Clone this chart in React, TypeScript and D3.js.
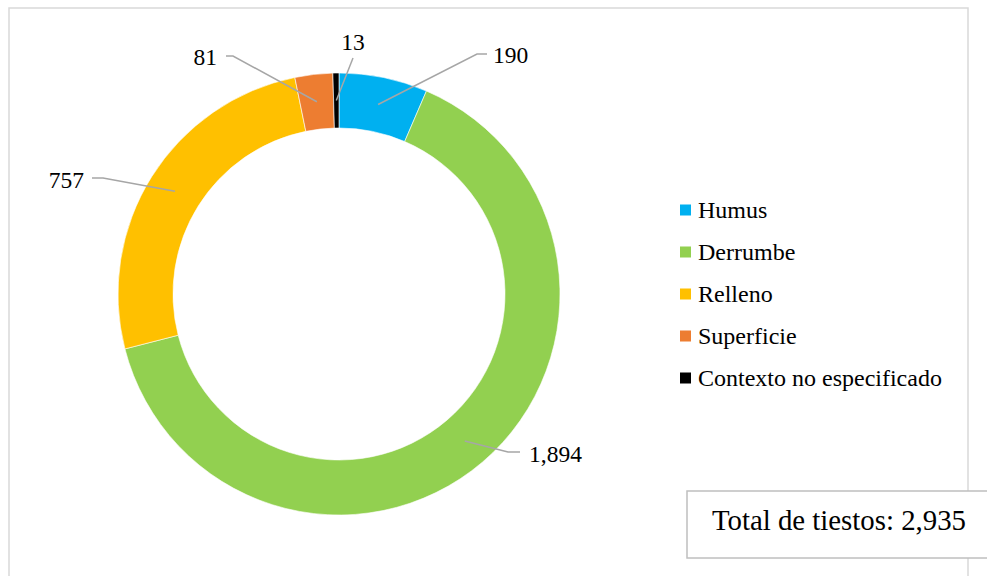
import React from "react";
import * as d3 from "d3";

const categories = ["Humus", "Derrumbe", "Relleno", "Superficie", "Contexto no especificado"];
const values = [190, 1894, 757, 81, 13];
const colors = ["#00B0F0", "#92D050", "#FFC000", "#ED7D31", "#000000"];
const totalLabel = "Total de tiestos: 2,935";

// label layout: elbow point, end point of leader line, text anchor & position
const labelElbows: [number, number][] = [[477, 54], [508, 452], [103, 178], [233, 56], [353, 58]];
const labelEnds: [number, number][] = [[487, 54], [520, 452], [92, 178], [226, 56], [353, 58]];
const labelText: { x: number; y: number; anchor: string }[] = [
  { x: 493, y: 63, anchor: "start" },
  { x: 529, y: 462, anchor: "start" },
  { x: 84, y: 188, anchor: "end" },
  { x: 217, y: 65, anchor: "end" },
  { x: 353, y: 50, anchor: "middle" },
];

const W = 987;
const H = 576;
const cx = 339;
const cy = 294;
const outerR = 221;
const innerR = 166;
const FONT = "'Liberation Serif', 'Times New Roman', 'DejaVu Serif', serif";

export default function App() {
  const pie = d3.pie<number>().value((d) => d).sort(null);
  const arcs = pie(values);
  const arcGen = d3.arc<d3.PieArcDatum<number>>().innerRadius(innerR).outerRadius(outerR);
  const midArc = d3.arc<d3.PieArcDatum<number>>().innerRadius((innerR + outerR) / 2).outerRadius((innerR + outerR) / 2);
  const fmt = d3.format(",");
  const legendY = d3.scaleLinear().domain([0, 4]).range([210, 378]);

  return (
    <svg width={W} height={H} style={{ position: "absolute", left: 0, top: 0, background: "#fff" }}>
      <rect x={9} y={8} width={959} height={H + 20} fill="#fff" stroke="#D9D9D9" strokeWidth={1.5} />
      <g transform={`translate(${cx},${cy})`}>
        {arcs.map((a, i) => (
          <path key={i} d={arcGen(a) || ""} fill={colors[i]} stroke="#fff" strokeWidth={0.6} />
        ))}
      </g>
      {arcs.map((a, i) => {
        const [mx, my] = midArc.centroid(a);
        const start: [number, number] = [cx + mx, cy + my];
        const pts = [start, labelElbows[i], labelEnds[i]];
        const line = d3.line()(pts) || "";
        return (
          <g key={i}>
            <path d={line} fill="none" stroke="#A6A6A6" strokeWidth={1.5} />
            <text
              x={labelText[i].x}
              y={labelText[i].y}
              textAnchor={labelText[i].anchor as any}
              style={{ fontFamily: FONT }}
              fontSize={23.5}
              fill="#000"
            >
              {fmt(values[i])}
            </text>
          </g>
        );
      })}
      {categories.map((c, i) => (
        <g key={c} transform={`translate(0,${legendY(i)})`}>
          <rect x={680} y={-5.5} width={11} height={11} fill={colors[i]} />
          <text x={698} y={8} style={{ fontFamily: FONT }} fontSize={24} fill="#000">
            {c}
          </text>
        </g>
      ))}
      <rect x={687} y={491} width={320} height={67} fill="#fff" stroke="#BFBFBF" strokeWidth={1.5} />
      <text x={712} y={530} style={{ fontFamily: FONT }} fontSize={28.8} fill="#000">
        {totalLabel}
      </text>
    </svg>
  );
}
